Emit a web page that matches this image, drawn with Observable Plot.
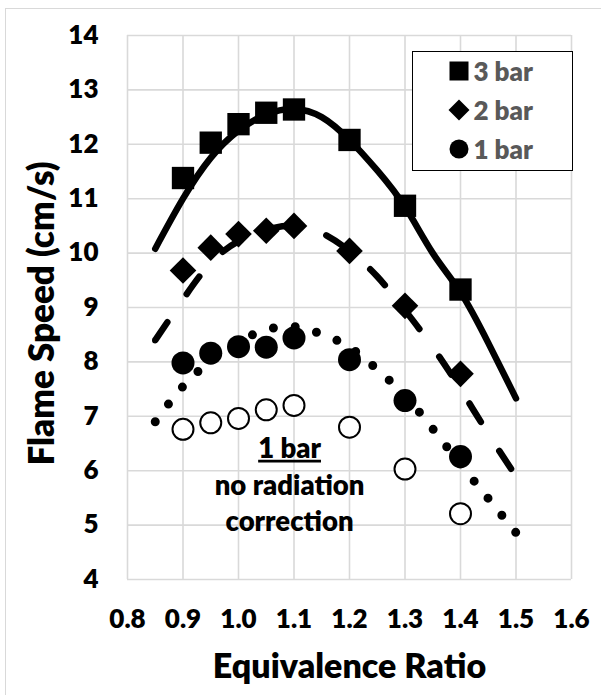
<!DOCTYPE html>
<html>
<head>
<meta charset="utf-8">
<script src="https://cdn.jsdelivr.net/npm/d3@7"></script>
<script src="https://cdn.jsdelivr.net/npm/@observablehq/plot@0.6"></script>
<style>
  html, body { margin: 0; padding: 0; background: #fff; overflow: hidden; }
  #wrap { position: relative; width: 601px; height: 695px; font-family: Lato, "Open Sans", sans-serif; }
  #chart { position: absolute; left: 0; top: 0; }
  #outer { position: absolute; left: 5px; top: 8px; width: 700px; height: 800px; border: 1.5px solid #d9d9d9; box-sizing: border-box; pointer-events: none; }
  #legend { position: absolute; left: 411.5px; top: 50.5px; width: 161.5px; height: 120px; border: 1.5px solid #000; box-sizing: border-box; background: #fff; }
  .row { position: absolute; left: 0; height: 30px; width: 100%; }
  .row svg { position: absolute; left: 34px; top: 3px; }
  .row span { position: absolute; left: 61px; top: 0; line-height: 30px; font-size: 26px; font-weight: 800; color: #595959; white-space: nowrap; }
</style>
</head>
<body>
<div id="wrap">
  <div id="chart"></div>
  <div id="legend"></div>
  <div id="outer"></div>
</div>
<script>
// Equivalence ratios of the measurements
const phi = [0.9, 0.95, 1.0, 1.05, 1.1, 1.2, 1.3, 1.4];
// Measured flame speeds (cm/s)
const bar3 = [11.38, 12.03, 12.37, 12.58, 12.64, 12.08, 10.87, 9.33];
const bar2 = [9.68, 10.10, 10.35, 10.41, 10.50, 10.04, 9.03, 7.78];
const bar1 = [7.98, 8.16, 8.28, 8.27, 8.44, 8.04, 7.29, 6.26];
const bar1NoRad = [6.76, 6.88, 6.96, 7.12, 7.20, 6.80, 6.03, 5.21];

// Fitted curves
const fitPhi = [0.85, 0.9, 0.95, 1.0, 1.05, 1.1, 1.15, 1.2, 1.25, 1.3, 1.35, 1.4, 1.45, 1.5];
const fit3 = [10.08, 11.0, 11.75, 12.25, 12.55, 12.65, 12.5, 12.08, 11.52, 10.85, 10.0, 9.28, 8.35, 7.33];
const fit2 = [8.4, 9.15, 9.82, 10.22, 10.43, 10.5, 10.37, 10.04, 9.57, 8.95, 8.27, 7.5, 6.68, 5.9];
const fit1 = [6.9, 7.55, 8.02, 8.37, 8.59, 8.65, 8.51, 8.27, 7.86, 7.38, 6.77, 6.12, 5.49, 4.86];

const xTicks = [0.8, 0.9, 1.0, 1.1, 1.2, 1.3, 1.4, 1.5, 1.6];
const yTicks = [4, 5, 6, 7, 8, 9, 10, 11, 12, 13, 14];

const legendLabels = ["3 bar", "2 bar", "1 bar"];
const xTitle = "Equivalence Ratio";
const yTitle = "Flame Speed (cm/s)";
const noteTitle = "1 bar";
const noteBody = "no radiation\ncorrection";

const pts = (vals) => phi.map((x, i) => ({x, y: vals[i]}));
const fitPts = (vals) => fitPhi.map((x, i) => ({x, y: vals[i]}));

const font = "Lato, 'Open Sans', sans-serif";
const W = 800;

const chart = Plot.plot({
  width: 601,
  height: 695,
  marginLeft: 127,
  marginRight: 30,
  marginTop: 35,
  marginBottom: 116,
  style: {fontFamily: font, background: "transparent", color: "#000"},
  x: {domain: [0.8, 1.6], label: null},
  y: {domain: [4, 14], label: null},
  marks: [
    Plot.gridX(xTicks, {stroke: "#d9d9d9", strokeOpacity: 1, strokeWidth: 1.6}),
    Plot.gridY(yTicks, {stroke: "#d9d9d9", strokeOpacity: 1, strokeWidth: 1.6}),
    Plot.axisX(xTicks, {tickSize: 0, tickPadding: 30, tickFormat: d => d.toFixed(1), fontSize: 26, fontWeight: W, label: null}),
    Plot.axisY(yTicks, {tickSize: 0, tickPadding: 29, tickFormat: d => String(d), fontSize: 26, fontWeight: W, label: null}),
    // fitted curves
    Plot.line(fitPts(fit3), {x: "x", y: "y", curve: "natural", stroke: "#000", strokeWidth: 6.5, strokeLinecap: "round"}),
    Plot.line(fitPts(fit2), {x: "x", y: "y", curve: "natural", stroke: "#000", strokeWidth: 6.5, strokeLinecap: "round", strokeDasharray: "21.5,34.2"}),
    Plot.line(fitPts(fit1), {x: "x", y: "y", curve: "natural", stroke: "#000", strokeWidth: 9, strokeLinecap: "round", strokeDasharray: "0,22"}),
    // measurements
    Plot.dot(pts(bar1NoRad), {x: "x", y: "y", symbol: "circle", r: 10.5, fill: "#fff", stroke: "#000", strokeWidth: 2}),
    Plot.dot(pts(bar1), {x: "x", y: "y", symbol: "circle", r: 11.5, fill: "#000", stroke: null}),
    Plot.dot(pts(bar2), {x: "x", y: "y", symbol: "diamond2", r: 12, fill: "#000", stroke: null}),
    Plot.dot(pts(bar3), {x: "x", y: "y", symbol: "square", r: 12.6, fill: "#000", stroke: null}),
    // annotation
    Plot.text([noteTitle], {x: 1.092, y: 6.4, text: d => d, fontSize: 27.5, fontWeight: W, fill: "#000", lineAnchor: "middle"}),
    Plot.text([noteBody], {x: 1.092, y: 5.43, text: d => d, fontSize: 27.5, fontWeight: W, fill: "#000", lineHeight: 1.29, lineAnchor: "middle"}),
    // axis titles
    Plot.text([yTitle], {frameAnchor: "left", dx: -85, dy: 6, rotate: -90, text: d => d, textAnchor: "middle", lineAnchor: "middle", fontSize: 35, fontWeight: W, fill: "#000"}),
    Plot.text([xTitle], {frameAnchor: "bottom", dy: 87.5, text: d => d, textAnchor: "middle", lineAnchor: "middle", fontSize: 34, fontWeight: W, fill: "#000"})
  ]
});
document.getElementById("chart").appendChild(chart);

// underline the annotation title
d3.select(chart).selectAll("text").filter(function() { return this.textContent === noteTitle; })
  .style("text-decoration", "underline");

// legend
const legend = document.getElementById("legend");
const rowCenters = [19.3, 58.3, 97];
const symbolsSvg = [
  '<rect x="2.5" y="2.5" width="19" height="19" fill="#000"/>',
  '<path d="M12,1.5 L22.5,12 L12,22.5 L1.5,12 Z" fill="#000"/>',
  '<circle cx="12" cy="12" r="9.5" fill="#000"/>'
];
legendLabels.forEach((lab, i) => {
  const row = document.createElement("div");
  row.className = "row";
  row.style.top = (rowCenters[i] - 15) + "px";
  row.innerHTML = '<svg width="24" height="24" viewBox="0 0 24 24">' + symbolsSvg[i] + '</svg><span></span>';
  row.querySelector("span").textContent = lab;
  legend.appendChild(row);
});
</script>
</body>
</html>
